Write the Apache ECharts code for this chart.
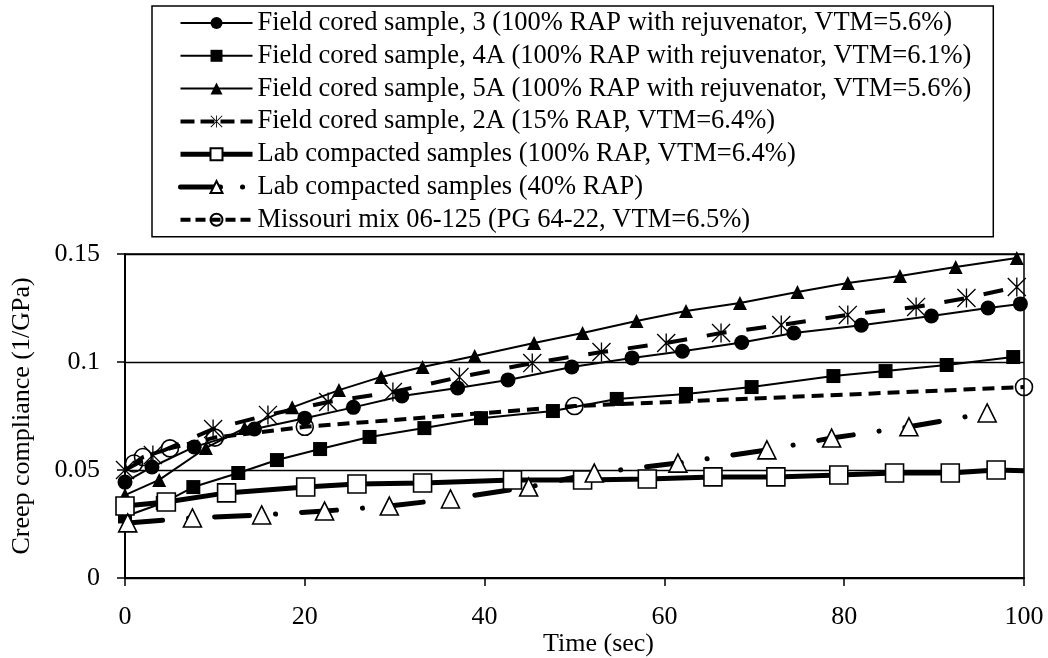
<!DOCTYPE html>
<html>
<head>
<meta charset="utf-8">
<script src="https://cdn.jsdelivr.net/npm/echarts@6/dist/echarts.min.js"></script>
<style>
html,body{margin:0;padding:0;background:#fff;}
#chart{width:1048px;height:658px;}
</style>
</head>
<body>
<div id="chart"></div>
<script>
// ---- data ----
const seriesNames = [
  'Field cored sample, 3 (100% RAP with rejuvenator, VTM=5.6%)',
  'Field cored sample, 4A (100% RAP with rejuvenator, VTM=6.1%)',
  'Field cored sample, 5A (100% RAP with rejuvenator, VTM=5.6%)',
  'Field cored sample, 2A (15% RAP, VTM=6.4%)',
  'Lab compacted samples (100% RAP, VTM=6.4%)',
  'Lab compacted samples (40% RAP)',
  'Missouri mix 06-125 (PG 64-22, VTM=6.5%)'
];

const xS3 = [0, 3, 7.7, 14.4, 20, 25.4, 30.8, 37, 42.6, 49.7, 56.4, 62, 68.6, 74.4, 81.9, 89.7, 96, 99.6];
const yS3 = [0.0444, 0.0514, 0.0607, 0.069, 0.074, 0.079, 0.0843, 0.088, 0.0917, 0.0977, 0.1019, 0.105, 0.109, 0.1134, 0.117, 0.1213, 0.125, 0.1269];

const xS4A = [0, 4.2, 7.6, 12.6, 16.9, 21.7, 27.2, 33.3, 39.6, 47.6, 54.7, 62.4, 69.7, 78.8, 84.6, 91.4, 98.8];
const yS4A = [0.0285, 0.0347, 0.0421, 0.0486, 0.0546, 0.0597, 0.0653, 0.0694, 0.074, 0.0773, 0.0829, 0.0852, 0.0884, 0.0935, 0.0958, 0.0986, 0.1023];

const xS5A = [0, 3.8, 9, 13.3, 18.6, 23.8, 28.5, 33.1, 38.9, 45.5, 50.9, 56.9, 62.4, 68.4, 74.8, 80.4, 86.2, 92.4, 99.2];
const yS5A = [0.0384, 0.0454, 0.0602, 0.0694, 0.079, 0.087, 0.0931, 0.0977, 0.1028, 0.1088, 0.1134, 0.119, 0.1236, 0.1273, 0.1324, 0.1366, 0.1398, 0.144, 0.1481];

const xS2A = [0, 3.1, 9.8, 15.9, 22.6, 29.8, 37.2, 45.3, 53, 60.2, 66.3, 73, 80.4, 88, 93.6, 99.2];
const yS2A = [0.05, 0.0569, 0.069, 0.0755, 0.0815, 0.0861, 0.093, 0.0995, 0.1046, 0.1088, 0.1134, 0.1171, 0.1218, 0.1255, 0.1296, 0.1347];

const xLab100 = [0, 4.6, 11.3, 20.1, 25.8, 33.1, 43.1, 50.9, 58.1, 65.4, 72.4, 79.4, 85.6, 91.8, 96.9];
const yLab100 = [0.0333, 0.0352, 0.0394, 0.0421, 0.0435, 0.044, 0.0454, 0.0454, 0.0458, 0.0468, 0.0468, 0.0477, 0.0486, 0.0486, 0.05];
const lab100LineEnd = [100, 0.0497];

const xLab40 = [0.3, 7.5, 15.2, 22.2, 29.4, 36.2, 44.9, 52.2, 61.5, 71.4, 78.6, 87.2, 95.9];
const yLab40 = [0.0255, 0.0278, 0.0292, 0.031, 0.0333, 0.0366, 0.0421, 0.0486, 0.0532, 0.0593, 0.0648, 0.07, 0.0764];

const xMo = [1, 2, 5, 10, 20, 50, 100];
const yMo = [0.053, 0.056, 0.060, 0.065, 0.070, 0.0796, 0.0884];

const xTicks = {min: 0, max: 100, interval: 20};
const yTicks = {min: 0, max: 0.15, interval: 0.05};

// ---- chart ----
const FONT = '"Liberation Serif", "Times New Roman", serif';
const pair = (xs, ys) => xs.map((x, i) => [x, ys[i]]);
const asterisk = 'path://M9.3,0 L10.7,0 L10.7,20 L9.3,20 Z M0,1 L1,0 L20,19 L19,20 Z M19,0 L20,1 L1,20 L0,19 Z';

const lab100Data = pair(xLab100, yLab100);
lab100Data.push({value: lab100LineEnd, symbol: 'none'});

const styles = [
  {sym: 'circle', size: 15, item: {color: '#000'}, line: {color: '#000', width: 2}},
  {sym: 'rect', size: 14, item: {color: '#000'}, line: {color: '#000', width: 2}},
  {sym: 'triangle', size: 14, item: {color: '#000'}, line: {color: '#000', width: 2}},
  {sym: asterisk, size: 19, item: {color: '#000'}, line: {color: '#000', width: 4, type: [20, 20]}},
  {sym: 'rect', size: 18, item: {color: '#fff', borderColor: '#000', borderWidth: 1.6}, line: {color: '#000', width: 5}},
  {sym: 'triangle', size: 18, item: {color: '#fff', borderColor: '#000', borderWidth: 1.6}, line: {color: '#000', width: 5, type: [35, 26, 0.1, 26], cap: 'round'}},
  {sym: 'circle', size: 17, item: {color: 'rgba(255,255,255,0)', borderColor: '#000', borderWidth: 1.6}, line: {color: '#000', width: 4, type: [12, 7]}}
];
const legendLine = [
  {width: 2}, {width: 2}, {width: 2},
  {width: 4, type: [14, 6]},
  {width: 5},
  {width: 5, type: [40, 22, 0.1, 40], cap: 'round'},
  {width: 4, type: [10, 5]}
];
const seriesData = [pair(xS3, yS3), pair(xS4A, yS4A), pair(xS5A, yS5A), pair(xS2A, yS2A), lab100Data, pair(xLab40, yLab40), pair(xMo, yMo)];

const chart = echarts.init(document.getElementById('chart'), null, {renderer: 'canvas'});
chart.setOption({
  animation: false,
  backgroundColor: '#fff',
  textStyle: {fontFamily: FONT, color: '#000'},
  grid: {left: 125, right: 24, top: 254, bottom: 80, show: true, borderColor: '#000', borderWidth: 1.5, backgroundColor: 'transparent'},
  legend: {
    orient: 'vertical',
    left: 152,
    top: 6,
    padding: [3, 22, 3, 26],
    itemWidth: 72,
    itemHeight: 15,
    itemGap: 4.8,
    borderColor: '#000',
    borderWidth: 1.5,
    backgroundColor: '#fff',
    textStyle: {fontFamily: FONT, fontSize: 26.5, color: '#000', lineHeight: 28},
    data: seriesNames.map((n, i) => ({name: n, lineStyle: Object.assign({color: '#000'}, legendLine[i])}))
  },
  xAxis: {
    type: 'value',
    min: xTicks.min, max: xTicks.max, interval: xTicks.interval,
    name: 'Time (sec)',
    nameLocation: 'middle',
    nameGap: 50,
    nameTextStyle: {fontFamily: FONT, fontSize: 26, color: '#000', padding: [0, 0, 0, 48]},
    axisLine: {show: true, lineStyle: {color: '#000', width: 2}},
    axisTick: {show: true, length: 8, lineStyle: {color: '#000', width: 1.5}},
    axisLabel: {fontFamily: FONT, fontSize: 26, color: '#000', margin: 26},
    splitLine: {show: false}
  },
  yAxis: {
    type: 'value',
    min: yTicks.min, max: yTicks.max, interval: yTicks.interval,
    name: 'Creep compliance (1/GPa)',
    nameLocation: 'middle',
    nameRotate: 90,
    nameGap: 90,
    nameTextStyle: {fontFamily: FONT, fontSize: 26, color: '#000'},
    axisLine: {show: true, lineStyle: {color: '#000', width: 2}},
    axisTick: {show: true, length: 8, lineStyle: {color: '#000', width: 1.5}},
    axisLabel: {fontFamily: FONT, fontSize: 26, color: '#000', margin: 25},
    splitLine: {show: true, lineStyle: {color: '#000', width: 1.3}}
  },
  series: seriesNames.map((n, i) => ({
    name: n, type: 'line', data: seriesData[i],
    symbol: styles[i].sym, symbolSize: styles[i].size, showAllSymbol: true,
    itemStyle: styles[i].item,
    lineStyle: styles[i].line
  }))
});
</script>
</body>
</html>
